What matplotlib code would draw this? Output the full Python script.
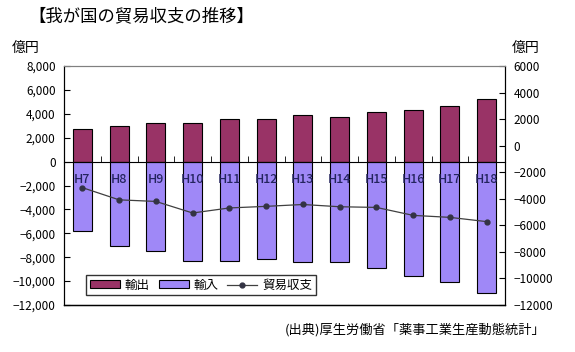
import matplotlib
matplotlib.use("Agg")
import numpy as np
import matplotlib.pyplot as plt
from matplotlib.ticker import FuncFormatter, FixedLocator
from matplotlib.patches import Patch
from matplotlib.lines import Line2D

plt.rcParams['font.family'] = ['Noto Sans CJK JP', 'DejaVu Sans']

years = ['H7', 'H8', 'H9', 'H10', 'H11', 'H12', 'H13', 'H14', 'H15', 'H16', 'H17', 'H18']
exports = [2700, 2960, 3230, 3230, 3550, 3550, 3910, 3710, 4130, 4300, 4640, 5230]
imports = [-5840, -7100, -7440, -8280, -8280, -8190, -8360, -8360, -8870, -9540, -10040, -10970]
balance = [-3160, -4080, -4200, -5070, -4690, -4570, -4430, -4600, -4650, -5250, -5400, -5720]

left_ticks = np.arange(-12000, 8001, 2000)
right_ticks = np.arange(-12000, 6001, 2000)

c_exp = '#993366'
c_imp = '#9f88f7'

fig = plt.figure(figsize=(5.75, 3.52), dpi=100)
ax = fig.add_axes([0.1113, 0.1335, 0.767, 0.679])
x = np.arange(len(years))

ax.bar(x, exports, width=0.52, color=c_exp, edgecolor='black', linewidth=0.8, zorder=2)
ax.bar(x, imports, width=0.52, color=c_imp, edgecolor='black', linewidth=0.8, zorder=2)
ax.set_axisbelow(False)
ax.set_xlim(-0.5, len(years) - 0.5)
ax.set_ylim(-12000, 8000)

ax.yaxis.set_major_locator(FixedLocator(left_ticks))
ax.yaxis.set_major_formatter(FuncFormatter(lambda v, p: f"{v:,.0f}".replace('-', '\u2212')))
ax.tick_params(axis='y', direction='in', length=4, labelsize=8.5, pad=6)

# category axis sits on the zero line
ax.spines['bottom'].set_position(('data', 0))
ax.set_xticks(x)
ax.set_xticklabels(years, color='#24245e', fontsize=9, fontweight='medium')
ax.set_xticks(np.arange(-0.5, len(years)), minor=True)
ax.tick_params(axis='x', which='major', length=0, pad=8)
ax.tick_params(axis='x', which='minor', direction='in', length=4)
ax.axhline(-12000, color='black', linewidth=1.0, clip_on=False, zorder=3)
ax.spines['top'].set_color('#808080')
for s in ['left', 'right', 'bottom']:
    ax.spines[s].set_color('black')

ax2 = ax.twinx()
ax2.plot(x, balance, color='#404040', linewidth=0.9, marker='o', markersize=3.5,
         markerfacecolor='#333344', markeredgecolor='#333344', zorder=4)
ax2.set_ylim(-12000, 6000)
ax2.yaxis.set_major_locator(FixedLocator(right_ticks))
ax2.yaxis.set_major_formatter(FuncFormatter(lambda v, p: f"{v:.0f}".replace('-', '\u2212')))
ax2.tick_params(axis='y', direction='in', length=4, labelsize=8.5, pad=6)
ax2.spines['right'].set_color('black')
ax2.spines['top'].set_color('#808080')

handles = [Patch(facecolor=c_exp, edgecolor='black', linewidth=0.8),
           Patch(facecolor=c_imp, edgecolor='black', linewidth=0.8),
           Line2D([0], [0], color='#404040', linewidth=0.9, marker='o', markersize=3.5,
                  markerfacecolor='#333344', markeredgecolor='#333344')]
leg = ax2.legend(handles, ['輸出', '輸入', '貿易収支'], loc='lower left',
                 bbox_to_anchor=(0.05, 0.04), ncol=3, fontsize=9, frameon=True,
                 fancybox=False, edgecolor='black', handlelength=2.4, handleheight=0.6,
                 handletextpad=0.4, columnspacing=0.7, borderpad=0.3, borderaxespad=0)
leg.get_frame().set_linewidth(1.0)

fig.text(0.05, 0.955, '【我が国の貿易収支の推移】', fontsize=12.5, va='center', ha='left')
fig.text(0.02, 0.865, '億円', fontsize=10, va='center', ha='left')
fig.text(0.89, 0.865, '億円', fontsize=10, va='center', ha='left')
fig.text(0.948, 0.062, '(出典)厚生労働省「薬事工業生産動態統計」', fontsize=9.5, va='center', ha='right')

fig.savefig('out.png', dpi=100)
